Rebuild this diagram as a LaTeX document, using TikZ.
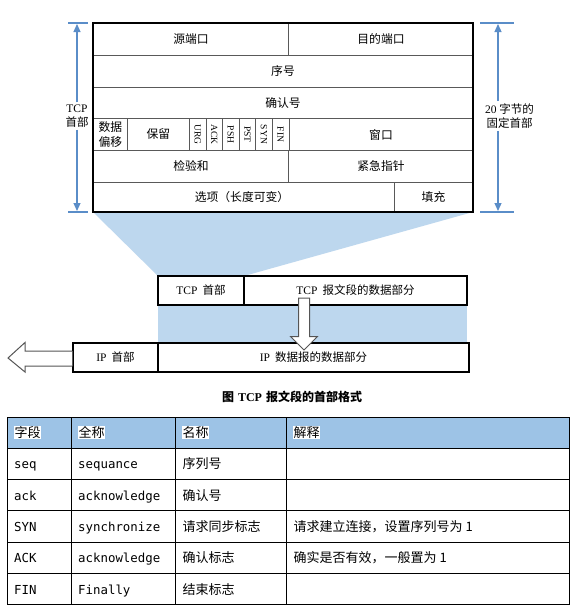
\documentclass[tikz,border=0pt]{standalone}
\usepackage{fontspec}
\setmainfont{Liberation Serif}
\setmonofont{DejaVu Sans Mono}
\newfontfamily\cjk{Noto Sans CJK SC}
\usetikzlibrary{arrows.meta}
\newcommand{\zh}[1]{{\cjk #1}}
\definecolor{lblue}{HTML}{BDD7EE}
\definecolor{hblue}{HTML}{9DC3E6}
\definecolor{dimblue}{HTML}{5A8DC8}
\definecolor{arrgray}{HTML}{555555}
\tikzset{
  outer/.style={draw=black, line width=1.3pt},
  inner/.style={draw=black!65, line width=0.8pt},
  dtxt/.style={font=\fontsize{11.5}{14}\selectfont, inner sep=0pt},
  ztxt/.style={font=\cjk\fontsize{11.8}{14.5}\selectfont, inner sep=0pt},
  flag/.style={font=\fontsize{9.5}{10}\selectfont, rotate=-90, inner sep=0pt},
  dimtxt/.style={font=\fontsize{11.5}{14.5}\selectfont, align=center, inner sep=2pt},
  dimline/.style={draw=dimblue, line width=1.2pt},
  dimarr/.style={draw=dimblue, line width=1.2pt, -{Triangle[length=8pt,width=7pt]}},
  boxline/.style={draw=black, line width=1.2pt},
  blockarr/.style={draw=arrgray, line width=1pt, fill=white},
  ttxt/.style={font=\cjk\fontsize{13}{15}\selectfont, anchor=base west, inner sep=0pt},
  htxt/.style={font=\cjk\fontsize{13}{15}\selectfont, anchor=base west, inner sep=0.8pt, fill=white},
  mtxt/.style={font=\ttfamily\fontsize{12.4}{15}\selectfont, anchor=base west, inner sep=0pt},
  grid/.style={draw=black, line width=0.9pt}
}
\begin{document}
\begin{tikzpicture}[x=1pt,y=-1pt]
\useasboundingbox (0,0) rectangle (581,616);
\fill[white] (0,0) rectangle (581,616);

% ---------- blue projection shapes ----------
\fill[lblue] (93,212) -- (473,212) -- (244,276) -- (158,276) -- cycle;
\fill[lblue] (158,305) rectangle (467,343);

% ---------- TCP header table ----------
\draw[inner] (93,55) -- (473,55);
\draw[inner] (93,87) -- (473,87);
\draw[inner] (93,118.5) -- (473,118.5);
\draw[inner] (93,150) -- (473,150);
\draw[inner] (93,182) -- (473,182);
\draw[inner] (288.5,23) -- (288.5,55);
\draw[inner] (288.5,150) -- (288.5,182);
\draw[inner] (394,182) -- (394,212);
\foreach \x in {127.3,189.3,205.9,222.5,239.1,255.7,272.3,288.9}
  \draw[inner] (\x,118.5) -- (\x,150);
\draw[outer] (93,23) rectangle (473,212);

\node[ztxt] (srcport) at (191,39) {源端口};
\node[ztxt] (dstport) at (381,39) {目的端口};
\node[ztxt] (seqno) at (283,71) {序号};
\node[ztxt] (ackno) at (283,103) {确认号};
\node[ztxt, align=center] (offset) at (110.3,134.5) {数据\\偏移};
\node[ztxt] (resv) at (158.3,134.5) {保留};
\node[flag] (furg) at (197.6,134.5) {URG};
\node[flag] (fack) at (214.2,134.5) {ACK};
\node[flag] (fpsh) at (230.8,134.5) {PSH};
\node[flag] (fpst) at (247.4,134.5) {PST};
\node[flag] (fsyn) at (264.0,134.5) {SYN};
\node[flag] (ffin) at (280.6,134.5) {FIN};
\node[ztxt] (window) at (381,134.5) {窗口};
\node[ztxt] (checksum) at (191,166) {检验和};
\node[ztxt] (urgent) at (381,166) {紧急指针};
\node[ztxt] (options) at (242,197) {选项（长度可变）};
\node[ztxt] (padding) at (433.5,197) {填充};

% ---------- dimension markers ----------
\draw[dimline] (68,23) -- (88,23);
\draw[dimline] (68,212) -- (88,212);
\coordinate (lt) at (77,24);
\coordinate (lb) at (77,211);
\node[dimtxt] (ldim) at (77,116) {TCP\\\zh{首部}};
\draw[dimarr] (ldim.north) -- (lt);
\draw[dimarr] (ldim.south) -- (lb);

\draw[dimline] (480,23) -- (514,23);
\draw[dimline] (480,212) -- (514,212);
\coordinate (rt) at (498,24);
\coordinate (rb) at (498,211);
\node[dimtxt] (rdim) at (509.5,116) {20 \zh{字节的}\\\zh{固定首部}};
\draw[dimarr] (rdim.north -| rt) -- (rt);
\draw[dimarr] (rdim.south -| rb) -- (rb);

% ---------- TCP segment / IP datagram ----------
\draw[boxline] (158,276) rectangle (467,305);
\draw[boxline] (244,276) -- (244,305);
\node[dtxt] (tcphdr) at (201,290.5) {TCP\hspace{5pt}\zh{首部}};
\node[dtxt] (tcpdata) at (355.5,290.5) {TCP\hspace{5pt}\zh{报文段的数据部分}};

\draw[boxline] (73,343) rectangle (469,372);
\draw[boxline] (158,343) -- (158,372);
\node[dtxt] (iphdr) at (115.5,357.5) {IP\hspace{5pt}\zh{首部}};
\node[dtxt] (ipdata) at (313.5,357.5) {IP\hspace{5pt}\zh{数据报的数据部分}};

% down block arrow
\draw[blockarr] (298.5,298) -- (309.5,298) -- (309.5,336.5) -- (317.5,336.5)
  -- (304,350) -- (290.5,336.5) -- (298.5,336.5) -- cycle;
% left block arrow
\filldraw[blockarr] (72.4,351) -- (25,351) -- (25,342.5) -- (8,358) -- (25,372)
  -- (25,366) -- (72.4,366);

% caption
\node[inner sep=0pt, font=\fontsize{12}{14}\selectfont\bfseries] (caption) at (292,397)
  {\zh{\bfseries 图}\hspace{4pt}TCP\hspace{4pt}\zh{\bfseries 报文段的首部格式}};

% ---------- field table ----------
\fill[hblue] (7,417) rectangle (569,448.3);
\foreach \y in {448.3,479.6,510.9,542.2,573.5}
  \draw[grid] (7,\y) -- (569,\y);
\foreach \x in {71,175,286}
  \draw[grid] (\x,417) -- (\x,604.8);
\draw[grid] (7,417) rectangle (569,604.8);

\node[htxt] (h1) at (13.5,437.5) {字段};
\node[htxt] (h2) at (77.5,437.5) {全称};
\node[htxt] (h3) at (181.5,437.5) {名称};
\node[htxt] (h4) at (292.5,437.5) {解释};

\node[mtxt] (a1) at (14,468.8) {seq};
\node[mtxt] (b1) at (78,468.8) {sequance};
\node[ttxt] (c1) at (182.5,468.8) {序列号};

\node[mtxt] (a2) at (14,500.1) {ack};
\node[mtxt] (b2) at (78,500.1) {acknowledge};
\node[ttxt] (c2) at (182.5,500.1) {确认号};

\node[mtxt] (a3) at (14,531.4) {SYN};
\node[mtxt] (b3) at (78,531.4) {synchronize};
\node[ttxt] (c3) at (182.5,531.4) {请求同步标志};
\node[ttxt] (d3) at (293.5,531.4) {请求建立连接，设置序列号为 1};

\node[mtxt] (a4) at (14,562.7) {ACK};
\node[mtxt] (b4) at (78,562.7) {acknowledge};
\node[ttxt] (c4) at (182.5,562.7) {确认标志};
\node[ttxt] (d4) at (293.5,562.7) {确实是否有效，一般置为 1};

\node[mtxt] (a5) at (14,594) {FIN};
\node[mtxt] (b5) at (78,594) {Finally};
\node[ttxt] (c5) at (182.5,594) {结束标志};
\end{tikzpicture}
\end{document}
